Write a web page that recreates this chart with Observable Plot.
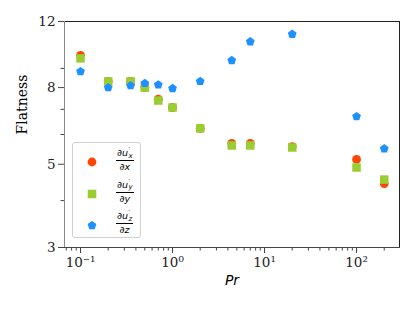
<!DOCTYPE html>
<html>
<head>
<meta charset="utf-8">
<script src="https://cdn.jsdelivr.net/npm/d3@7"></script>
<script src="https://cdn.jsdelivr.net/npm/@observablehq/plot@0.6"></script>
<style>
  body { margin: 0; background: #fff; }
  #wrap { position: relative; width: 415px; height: 312px; }
  #legend { position: absolute; left: 72px; top: 142px; width: 69px; height: 96px;
    border: 1px solid #d0d0d0; border-radius: 3px; background: rgba(255,255,255,0.8); box-sizing: border-box; }
  .item { position: absolute; left: 0; width: 100%; height: 30px; }
  .item svg { position: absolute; left: 12px; top: 9px; }
  .frac { position: absolute; left: 43px; top: 2px; display: flex; flex-direction: column; align-items: center;
    font-family: "DejaVu Sans", sans-serif; font-size: 9.5px; line-height: 1; color: #000; }
  .num { border-bottom: 0.9px solid #000; padding: 0 1px 1px 1px; white-space: nowrap; }
  .den { padding-top: 1px; white-space: nowrap; }
  .ss { display: inline-block; vertical-align: middle; font-size: 7px; line-height: 0.8; margin-left: 0.5px; }
  .ss span { display: block; }
</style>
</head>
<body>
<div id="wrap"></div>
<script>
const pr = [0.1, 0.2, 0.35, 0.5, 0.7, 1, 2, 4.4, 7, 20, 100, 200];
const flatX = [9.75, 8.31, 8.31, 8.0, 7.45, 7.08, 6.23, 5.68, 5.68, 5.57, 5.15, 4.44];
const flatY = [9.57, 8.31, 8.31, 8.0, 7.39, 7.08, 6.23, 5.61, 5.61, 5.54, 4.90, 4.55];
const flatZ = [8.83, 8.0, 8.10, 8.21, 8.14, 7.96, 8.31, 9.45, 10.6, 11.1, 6.70, 5.50];
const yTicks = [3, 5, 8, 12];
const yMinor = [4, 6, 7, 9];
const xTicks = [0.1, 1, 10, 100];
const xTickLabels = ["10\u207B\u00B9", "10\u2070", "10\u00B9", "10\u00B2"];
const xMinor = [0.07, 0.08, 0.09, 0.2, 0.3, 0.4, 0.5, 0.6, 0.7, 0.8, 0.9,
  2, 3, 4, 5, 6, 7, 8, 9, 20, 30, 40, 50, 60, 70, 80, 90, 200];

const colors = {x: "#ff4500", y: "#9acd32", z: "#1e90ff"};

const pentagon = {
  draw(ctx, size) {
    const r = Math.sqrt(size / Math.PI);
    for (let i = 0; i < 5; i++) {
      const a = -Math.PI / 2 + i * 2 * Math.PI / 5;
      const px = r * Math.cos(a), py = r * Math.sin(a);
      if (i === 0) ctx.moveTo(px, py); else ctx.lineTo(px, py);
    }
    ctx.closePath();
  }
};

const dataX = pr.map((p, i) => ({pr: p, v: flatX[i]}));
const dataY = pr.map((p, i) => ({pr: p, v: flatY[i]}));
const dataZ = pr.map((p, i) => ({pr: p, v: flatZ[i]}));

const chart = Plot.plot({
  width: 415, height: 312,
  marginLeft: 64, marginRight: 16, marginTop: 21, marginBottom: 65,
  style: {fontFamily: "DejaVu Serif", fontSize: "13.5px", color: "#222", background: "transparent"},
  x: {type: "log", domain: [0.067, 293], label: null},
  y: {type: "log", domain: [3, 12], label: null},
  marks: [
    Plot.frame({anchor: "top", stroke: "#222"}),
    Plot.frame({anchor: "right", stroke: "#222"}),
    Plot.frame({anchor: "left", stroke: "#888"}),
    Plot.frame({anchor: "bottom", stroke: "#444"}),
    Plot.axisY(yTicks, {tickSize: 6, tickPadding: 3, tickFormat: d => String(d), label: null, stroke: "#444"}),
    Plot.axisY(yMinor, {tickSize: 3.5, tickFormat: () => "", label: null, stroke: "#444"}),
    Plot.axisX(xTicks, {tickSize: 6, tickPadding: 4, tickFormat: d => xTickLabels[xTicks.indexOf(d)], label: null, stroke: "#444"}),
    Plot.axisX(xMinor, {tickSize: 3.5, tickFormat: () => "", label: null, stroke: "#444"}),
    Plot.text(["Flatness"], {frameAnchor: "left", dx: -42, rotate: -90, fontSize: 14, fontFamily: "DejaVu Serif", fill: "#000"}),
    Plot.text(["Pr"], {frameAnchor: "bottom", dy: 37, fontSize: 14, fontStyle: "italic", fontFamily: "DejaVu Sans", fill: "#000"}),
    Plot.dot(dataX, {x: "pr", y: "v", symbol: "circle", r: 4.4, fill: colors.x, stroke: "none"}),
    Plot.dot(dataY, {x: "pr", y: "v", symbol: "square", r: 4.8, fill: colors.y, stroke: "none"}),
    Plot.dot(dataZ, {x: "pr", y: "v", symbol: pentagon, r: 4.6, fill: colors.z, stroke: "none"})
  ]
});

const wrap = document.getElementById("wrap");
wrap.appendChild(chart);

const legendItems = [
  {key: "x", shape: "circle"},
  {key: "y", shape: "square"},
  {key: "z", shape: "pentagon"}
];
const legend = document.createElement("div");
legend.id = "legend";
legendItems.forEach((it, i) => {
  const div = document.createElement("div");
  div.className = "item";
  div.style.top = (3 + i * 31.5) + "px";
  let shape;
  if (it.shape === "circle") shape = `<circle cx="7" cy="7" r="4.4" fill="${colors[it.key]}"/>`;
  else if (it.shape === "square") shape = `<rect x="2.7" y="2.7" width="8.6" height="8.6" fill="${colors[it.key]}"/>`;
  else {
    const pts = d3.range(5).map(k => {
      const a = -Math.PI / 2 + k * 2 * Math.PI / 5;
      return (7 + 4.6 * Math.cos(a)).toFixed(2) + "," + (7.5 + 4.6 * Math.sin(a)).toFixed(2);
    }).join(" ");
    shape = `<polygon points="${pts}" fill="${colors[it.key]}"/>`;
  }
  div.innerHTML = `<svg width="14" height="14">${shape}</svg>
    <div class="frac"><span class="num">\u2202<i>u</i><span class="ss"><span>\u2032</span><span><i>${it.key}</i></span></span></span><span class="den">\u2202<i>${it.key}</i></span></div>`;
  legend.appendChild(div);
});
wrap.appendChild(legend);
</script>
</body>
</html>
